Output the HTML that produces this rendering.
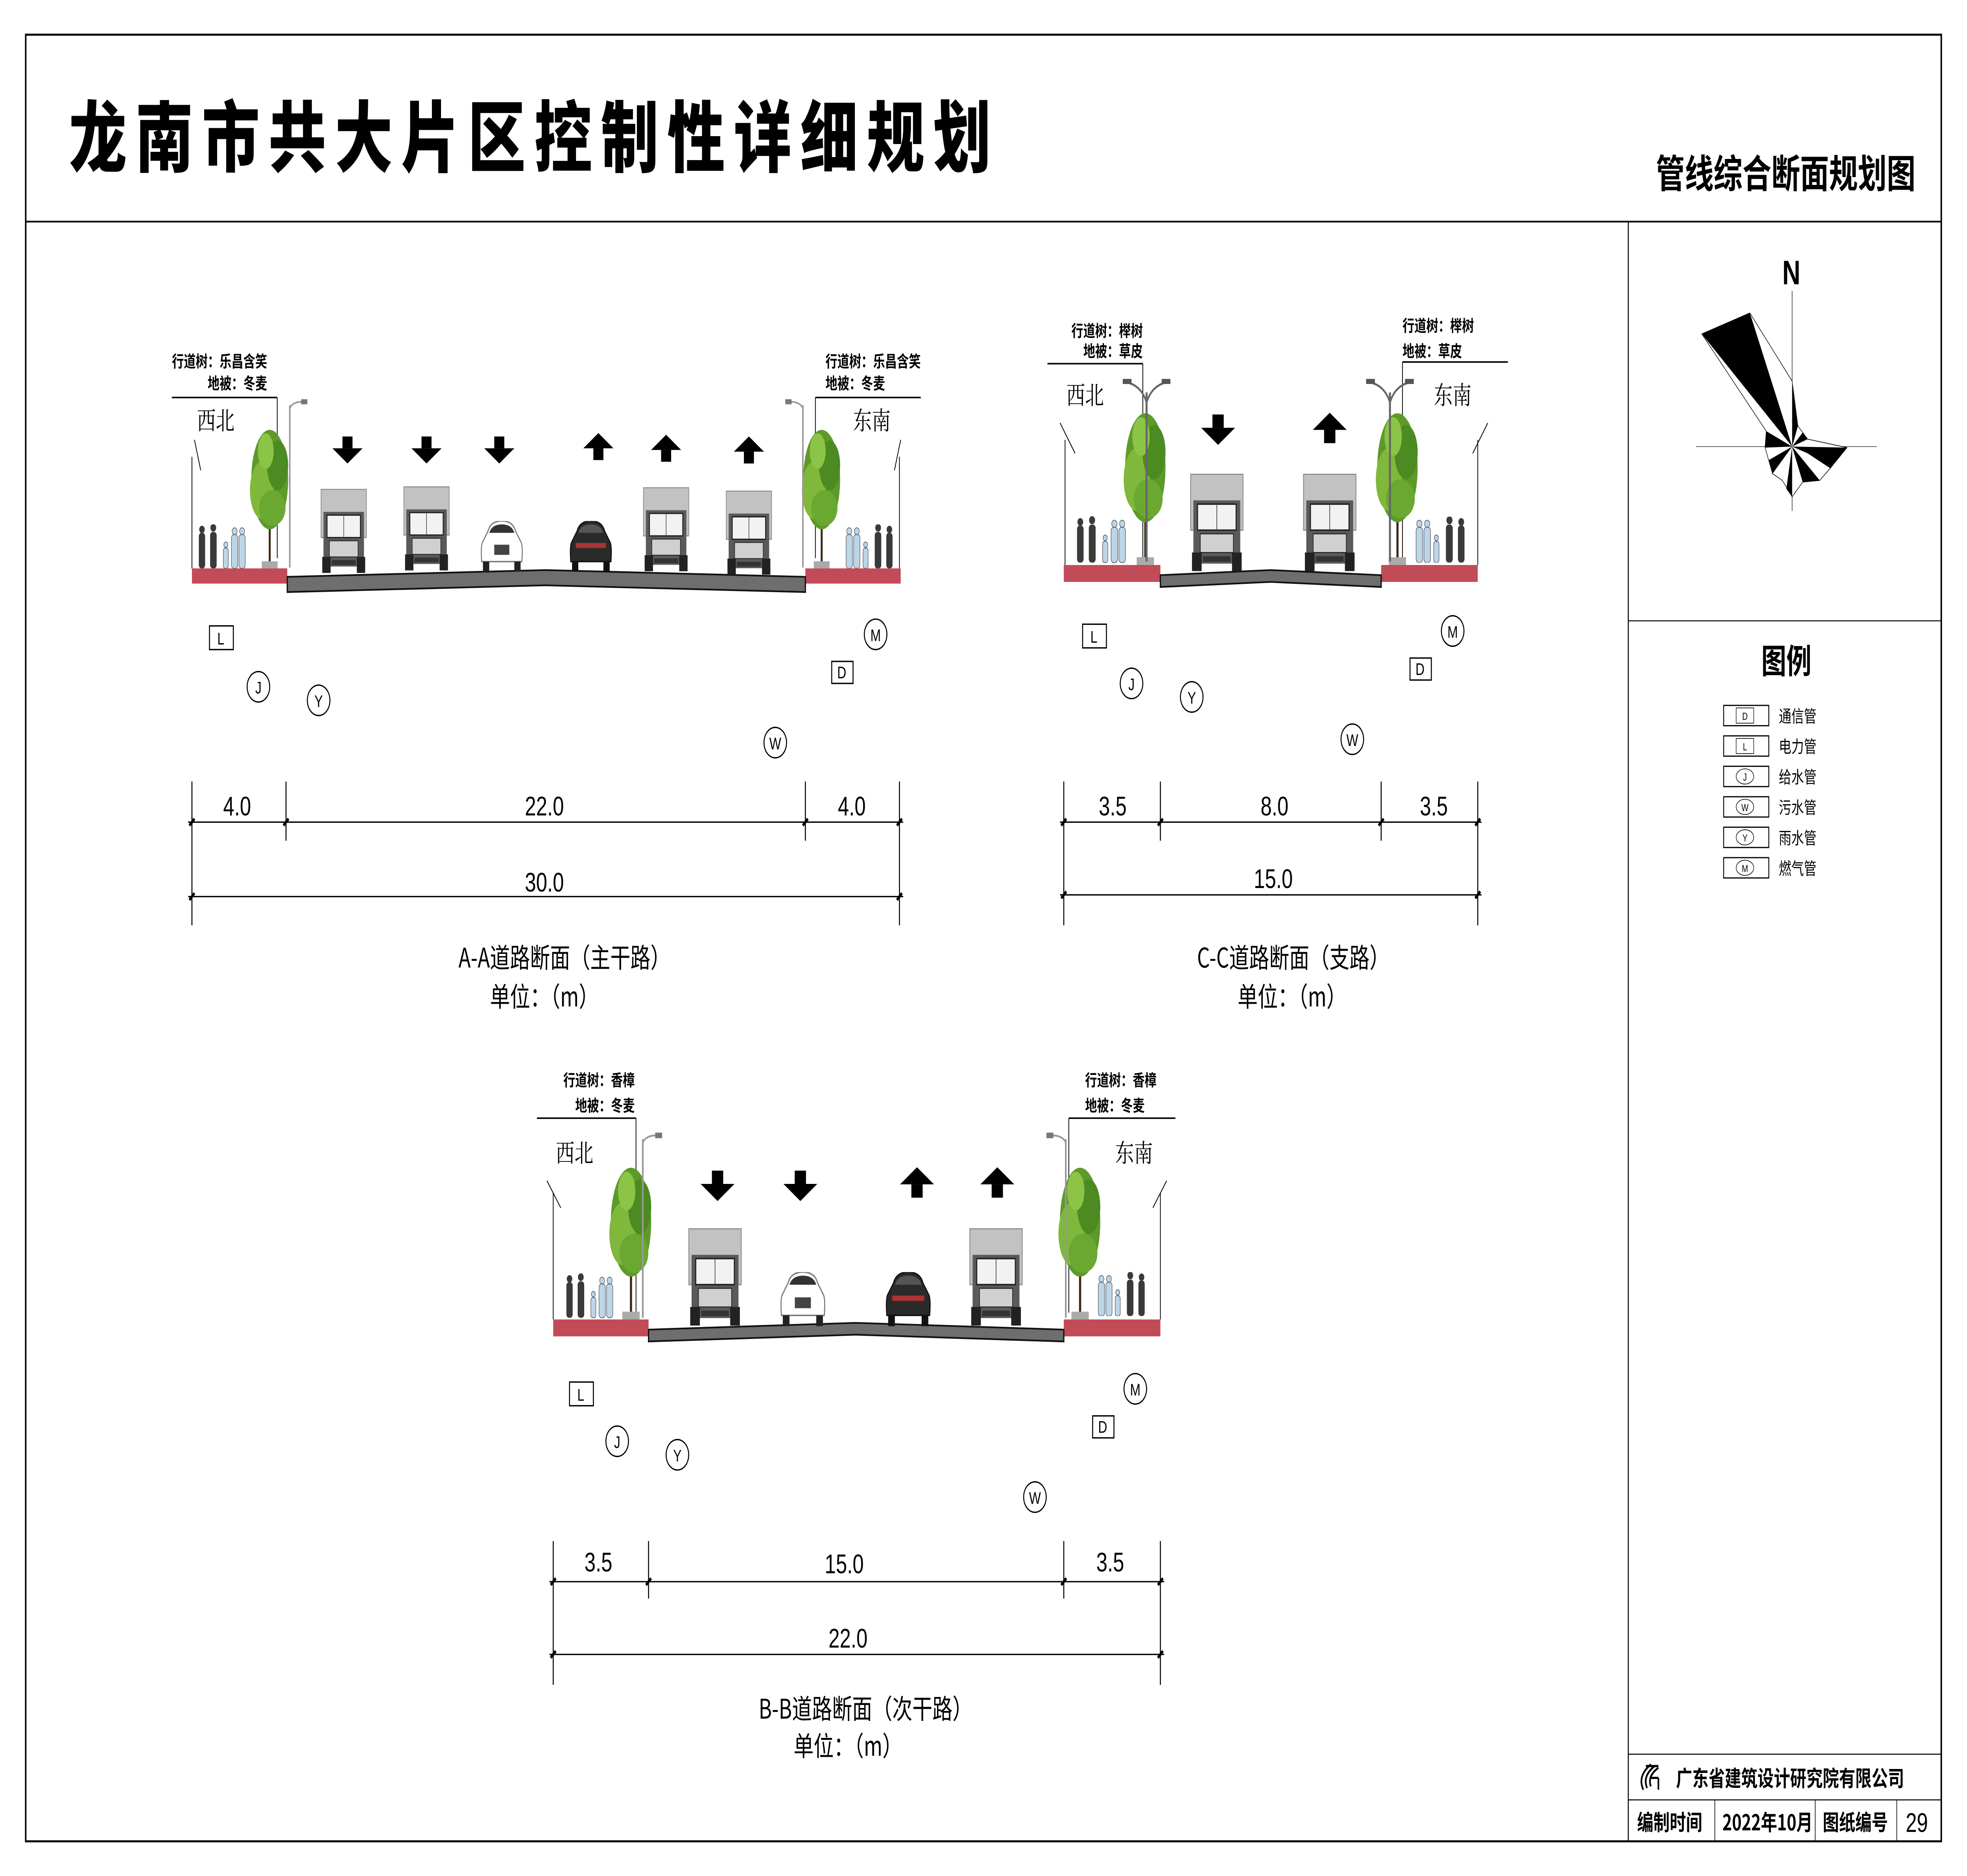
<!DOCTYPE html>
<html><head><meta charset="utf-8">
<style>
html,body{margin:0;padding:0;background:#fff;width:100vw;height:100vh;overflow:hidden;}
svg{display:block;width:100vw;height:100vh;}
text{font-family:"Liberation Sans","Noto Sans CJK SC",sans-serif;}
.cn{font-family:"Noto Sans CJK SC","WenQuanYi Zen Hei",sans-serif;}
.sr{font-family:"Noto Serif CJK SC",serif;}
</style></head>
<body>
<svg viewBox="0 0 1568 1109" preserveAspectRatio="none" xmlns="http://www.w3.org/2000/svg">
<defs>
<symbol id="truck" viewBox="0 0 40 52">
<rect x="1" y="0" width="38" height="30" fill="#c2c2c2" stroke="#8a8a8a" stroke-width="0.6"/>
<rect x="3" y="14" width="34" height="34" fill="#5a5a5a"/>
<rect x="6" y="16" width="28" height="14" fill="#f2f2f2" stroke="#222" stroke-width="0.8"/>
<line x1="20" y1="16" x2="20" y2="30" stroke="#444" stroke-width="0.5"/>
<rect x="8" y="32" width="24" height="10" fill="#d0d0d0" stroke="#222" stroke-width="0.5"/>
<rect x="2" y="42" width="7" height="10" fill="#222"/>
<rect x="31" y="42" width="7" height="10" fill="#222"/>
<rect x="10" y="44" width="20" height="3" fill="#333"/>
</symbol>
<symbol id="carw" viewBox="0 0 36 30">
<path d="M7 6 Q9 0 18 0 Q27 0 29 6 L33 12 Q35 14 34 24 L2 24 Q1 14 3 12 Z" fill="#fff" stroke="#777" stroke-width="0.8"/>
<path d="M8 7 Q10 2 18 2 Q26 2 28 7 Z" fill="#333"/>
<rect x="12" y="14" width="12" height="6" fill="#444"/>
<rect x="3" y="24" width="5" height="6" fill="#222"/><rect x="28" y="24" width="5" height="6" fill="#222"/>
</symbol>
<symbol id="carb" viewBox="0 0 36 30">
<path d="M7 6 Q9 0 18 0 Q27 0 29 6 L33 12 Q35 14 34 24 L2 24 Q1 14 3 12 Z" fill="#2a2a2a" stroke="#111" stroke-width="0.8"/>
<path d="M8 7 Q10 2 18 2 Q26 2 28 7 Z" fill="#555"/>
<rect x="6" y="13" width="24" height="3" fill="#a33"/>
<rect x="3" y="24" width="5" height="6" fill="#111"/><rect x="28" y="24" width="5" height="6" fill="#111"/>
</symbol>
<symbol id="tree" viewBox="0 0 40 80">
<line x1="20" y1="30" x2="20" y2="78" stroke="#3b2a1a" stroke-width="1.5"/>
<ellipse cx="20" cy="30" rx="14" ry="28" fill="#5d9a2a"/>
<ellipse cx="14" cy="36" rx="9" ry="16" fill="#7fb83a"/>
<ellipse cx="26" cy="22" rx="8" ry="14" fill="#4c8a22"/>
<ellipse cx="22" cy="46" rx="10" ry="10" fill="#6aa832"/>
<ellipse cx="17" cy="14" rx="6" ry="10" fill="#8cc447"/>
<rect x="14" y="76" width="12" height="4" fill="#aaa"/>
</symbol>
<symbol id="ppl" viewBox="0 0 46 26">
<g fill="#3a3a3a">
<circle cx="4" cy="3" r="2.2"/><rect x="1.5" y="5" width="5" height="21" rx="2"/>
<circle cx="13" cy="2" r="2.3"/><rect x="10.5" y="4.5" width="5.2" height="21.5" rx="2"/>
</g>
<g fill="#bcd6e6" stroke="#556" stroke-width="0.4">
<circle cx="30" cy="4" r="2"/><rect x="27.5" y="6" width="5" height="20" rx="2"/>
<circle cx="36" cy="4" r="2"/><rect x="33.5" y="6" width="5" height="20" rx="2"/>
<circle cx="23" cy="12" r="1.6"/><rect x="21" y="14" width="4" height="12" rx="1.5"/>
</g>
</symbol>
<symbol id="pplr" viewBox="0 0 46 26">
<g transform="translate(46,0) scale(-1,1)"><use href="#ppl" width="46" height="26"/></g>
</symbol>
<symbol id="adn" viewBox="0 0 24 16"><rect x="8" y="0" width="8" height="7" fill="#000"/><polygon points="0,7 24,7 12,16" fill="#000"/></symbol>
<symbol id="aup" viewBox="0 0 24 16"><rect x="8" y="9" width="8" height="7" fill="#000"/><polygon points="0,9 24,9 12,0" fill="#000"/></symbol>
<symbol id="lampL" viewBox="0 0 20 100"><line x1="4" y1="4" x2="4" y2="100" stroke="#999" stroke-width="1.2"/><path d="M4 6 Q6 2 14 2" fill="none" stroke="#999" stroke-width="1"/><rect x="13" y="0.5" width="5" height="3" fill="#777"/></symbol>
<symbol id="lampR" viewBox="0 0 20 100"><line x1="16" y1="4" x2="16" y2="100" stroke="#999" stroke-width="1.2"/><path d="M16 6 Q14 2 6 2" fill="none" stroke="#999" stroke-width="1"/><rect x="2" y="0.5" width="5" height="3" fill="#777"/></symbol>
<symbol id="lamp2" viewBox="0 0 40 110"><line x1="20" y1="10" x2="20" y2="110" stroke="#666" stroke-width="1.6"/><path d="M20 16 Q24 6 36 4" fill="none" stroke="#666" stroke-width="1.3"/><path d="M20 16 Q16 6 4 4" fill="none" stroke="#666" stroke-width="1.3"/><rect x="32" y="2" width="7" height="3" fill="#555"/><rect x="1" y="2" width="7" height="3" fill="#555"/></symbol>
</defs>

<!-- frame -->
<rect x="20.5" y="20.5" width="1527" height="1068" fill="none" stroke="#000" stroke-width="1.2"/>
<line x1="20" y1="131" x2="1548" y2="131" stroke="#000" stroke-width="1"/>
<line x1="1298" y1="131" x2="1298" y2="1088" stroke="#000" stroke-width="0.8"/>
<line x1="1298" y1="367" x2="1548" y2="367" stroke="#000" stroke-width="0.6"/>
<line x1="1298" y1="1037" x2="1548" y2="1037" stroke="#000" stroke-width="0.6"/>
<line x1="1298" y1="1064" x2="1548" y2="1064" stroke="#000" stroke-width="0.6"/>
<line x1="1367" y1="1064" x2="1367" y2="1088" stroke="#000" stroke-width="0.5"/>
<line x1="1447" y1="1064" x2="1447" y2="1088" stroke="#000" stroke-width="0.5"/>
<line x1="1512" y1="1064" x2="1512" y2="1088" stroke="#000" stroke-width="0.5"/>

<text x="55" y="98" class="cn" font-size="46" font-weight="900" textLength="735" lengthAdjust="spacing">龙南市共大片区控制性详细规划</text>
<text x="1527" y="111" class="cn" font-size="23" font-weight="700" text-anchor="end">管线综合断面规划图</text>

<!-- compass -->
<text x="1428" y="168" font-size="20" font-weight="700" text-anchor="middle">N</text>
<line x1="1428.6" y1="172" x2="1428.6" y2="302" stroke="#000" stroke-width="0.4"/>
<line x1="1352" y1="264" x2="1496" y2="264" stroke="#000" stroke-width="0.3"/>
<polygon points="1428.6,225.3 1433.2,251.9 1441,259.6 1472.3,264.6 1459,276.8 1450.6,284 1437,285 1428.6,293.7 1420.8,284 1413,280 1407,264.6 1408,254.9 1356.6,197.4 1394.9,185" fill="#fff" stroke="#000" stroke-width="0.4"/>
<g fill="#000">
<polygon points="1428.6,264 1356.6,197.4 1394.9,185"/>
<polygon points="1428.6,264 1428.6,225.3 1433.2,251.9"/>
<polygon points="1428.6,264 1437,255.7 1441,259.6"/>
<polygon points="1428.6,264 1472.3,264.6 1459,276.8 1441,268"/>
<polygon points="1428.6,264 1450.6,284 1437,285"/>
<polygon points="1428.6,264 1428.6,293.7 1424,289"/>
<polygon points="1428.6,264 1413,280 1410,272"/>
<polygon points="1428.6,264 1407,264.6 1408,254.9"/>
</g>

<!-- legend -->
<text x="1424" y="398" class="cn" font-size="20" font-weight="700" text-anchor="middle">图例</text>
<g fill="none" stroke="#000" stroke-width="0.7">
<rect x="1374" y="417" width="36" height="12"/><rect x="1384" y="418.5" width="14" height="9" stroke-width="0.4"/>
<rect x="1374" y="435" width="36" height="12"/><rect x="1384" y="436.5" width="14" height="9" stroke-width="0.4"/>
<rect x="1374" y="453" width="36" height="12"/><ellipse cx="1391" cy="459" rx="7" ry="4.5" stroke-width="0.4"/>
<rect x="1374" y="471" width="36" height="12"/><ellipse cx="1391" cy="477" rx="7" ry="4.5" stroke-width="0.4"/>
<rect x="1374" y="489" width="36" height="12"/><ellipse cx="1391" cy="495" rx="7" ry="4.5" stroke-width="0.4"/>
<rect x="1374" y="507" width="36" height="12"/><ellipse cx="1391" cy="513" rx="7" ry="4.5" stroke-width="0.4"/>
</g>
<g font-size="6" text-anchor="middle" fill="#000">
<text x="1391" y="425.5">D</text><text x="1391" y="443.5">L</text><text x="1391" y="461.5">J</text><text x="1391" y="479.5">W</text><text x="1391" y="497.5">Y</text><text x="1391" y="515.5">M</text>
</g>
<g font-size="10" fill="#000">
<text x="1418" y="427" class="cn">通信管</text><text x="1418" y="445" class="cn">电力管</text><text x="1418" y="463" class="cn">给水管</text><text x="1418" y="481" class="cn">污水管</text><text x="1418" y="499" class="cn">雨水管</text><text x="1418" y="517" class="cn">燃气管</text>
</g>

<!-- title block -->
<g fill="none" stroke="#000" stroke-width="1.3">
<path d="M1316 1043 Q1305 1050 1310 1058"/><path d="M1319 1044 Q1309 1050 1313 1057"/><path d="M1322 1045 Q1313 1050 1316 1056"/>
<line x1="1312" y1="1044" x2="1322" y2="1044"/><line x1="1315" y1="1051" x2="1322" y2="1051"/><line x1="1322" y1="1051" x2="1322" y2="1058"/>
</g>
<text x="1336" y="1056" class="cn" font-size="13" font-weight="700">广东省建筑设计研究院有限公司</text>
<text x="1305" y="1082" class="cn" font-size="13" font-weight="700">编制时间</text>
<text x="1373" y="1082" font-size="13" font-weight="700" class="cn">2022年10月</text>
<text x="1453" y="1082" class="cn" font-size="13" font-weight="700">图纸编号</text>
<text x="1528" y="1083" font-size="16" text-anchor="middle">29</text>

<!-- ================= A-A ================= -->
<g>
<text x="213" y="217" class="cn" font-size="9.5" font-weight="700" text-anchor="end">行道树：乐昌含笑</text>
<text x="213" y="230" class="cn" font-size="9.5" font-weight="700" text-anchor="end">地被：冬麦</text>
<line x1="137" y1="235" x2="221" y2="235" stroke="#000" stroke-width="0.9"/>
<line x1="221" y1="235" x2="221" y2="330" stroke="#000" stroke-width="0.6"/>
<text x="157" y="254" class="sr" font-size="15">西北</text>
<text x="658" y="217" class="cn" font-size="9.5" font-weight="700">行道树：乐昌含笑</text>
<text x="658" y="230" class="cn" font-size="9.5" font-weight="700">地被：冬麦</text>
<line x1="650" y1="235" x2="734" y2="235" stroke="#000" stroke-width="0.9"/>
<line x1="650" y1="235" x2="650" y2="330" stroke="#000" stroke-width="0.6"/>
<text x="680" y="254" class="sr" font-size="15">东南</text>
<path d="M155 260 L160 278 M153 270 L153 336" stroke="#000" stroke-width="0.6" fill="none"/>
<path d="M718 260 L713 278 M717 270 L717 336" stroke="#000" stroke-width="0.6" fill="none"/>
<use href="#tree" x="190" y="252" width="50" height="84"/>
<use href="#tree" x="630" y="252" width="50" height="84"/>
<use href="#lampL" x="227" y="235" width="20" height="101"/>
<use href="#lampR" x="624" y="235" width="20" height="101"/>
<use href="#ppl" x="157" y="310" width="46" height="26"/>
<use href="#pplr" x="667" y="310" width="46" height="26"/>
<rect x="153" y="336" width="76" height="9" fill="#c24b58"/>
<rect x="642" y="336" width="76" height="9" fill="#c24b58"/>
<polygon points="229,341 435,337 642,341 642,350 435,346 229,350" fill="#6e6e6e" stroke="#111" stroke-width="1"/>
<use href="#adn" x="265" y="258" width="24" height="16"/>
<use href="#adn" x="328" y="258" width="24" height="16"/>
<use href="#adn" x="386" y="258" width="24" height="16"/>
<use href="#aup" x="465" y="256" width="24" height="16"/>
<use href="#aup" x="519" y="257" width="24" height="16"/>
<use href="#aup" x="585" y="258" width="24" height="16"/>
<use href="#truck" x="255" y="289" width="38" height="50"/>
<use href="#truck" x="321" y="287" width="38" height="51"/>
<use href="#carw" x="381" y="308" width="38" height="30"/>
<use href="#carb" x="452" y="308" width="38" height="30"/>
<use href="#truck" x="512" y="288" width="38" height="50"/>
<use href="#truck" x="578" y="290" width="38" height="50"/>
</g>
<g fill="none" stroke="#000" stroke-width="0.8">
<rect x="167" y="370" width="19" height="14"/><rect x="663" y="391" width="17" height="13"/>
<circle cx="206" cy="406" r="9"/><circle cx="254" cy="414" r="9"/><circle cx="618" cy="439" r="9"/><circle cx="698" cy="375" r="9"/>
</g>
<g font-size="10" text-anchor="middle">
<text x="176" y="381">L</text><text x="671" y="401">D</text><text x="206" y="410">J</text><text x="254" y="418">Y</text><text x="618" y="443">W</text><text x="698" y="379">M</text>
</g>
<g stroke="#000" stroke-width="0.8">
<line x1="153" y1="462" x2="153" y2="547"/><line x1="228" y1="462" x2="228" y2="497"/><line x1="642" y1="462" x2="642" y2="497"/><line x1="717" y1="462" x2="717" y2="547"/>
<line x1="150" y1="486" x2="720" y2="486"/><line x1="150" y1="530" x2="720" y2="530"/>
</g>
<g stroke="#000" stroke-width="1.8">
<line x1="151" y1="488" x2="155" y2="484"/><line x1="226" y1="488" x2="230" y2="484"/><line x1="640" y1="488" x2="644" y2="484"/><line x1="715" y1="488" x2="719" y2="484"/>
<line x1="151" y1="532" x2="155" y2="528"/><line x1="715" y1="532" x2="719" y2="528"/>
</g>
<g font-size="16" text-anchor="middle">
<text x="189" y="482">4.0</text><text x="434" y="482">22.0</text><text x="679" y="482">4.0</text><text x="434" y="527">30.0</text>
</g>
<text x="450" y="572" class="cn" font-size="16" text-anchor="middle">A-A道路断面（主干路）</text>
<text x="434" y="595" class="cn" font-size="16" text-anchor="middle">单位：（m）</text>

<!-- ================= C-C ================= -->
<g>
<text x="911" y="199" class="cn" font-size="9.5" font-weight="700" text-anchor="end">行道树：榉树</text>
<text x="911" y="211" class="cn" font-size="9.5" font-weight="700" text-anchor="end">地被：草皮</text>
<line x1="835" y1="215" x2="911" y2="215" stroke="#000" stroke-width="0.9"/>
<line x1="911" y1="215" x2="911" y2="330" stroke="#000" stroke-width="0.6"/>
<text x="850" y="239" class="sr" font-size="15">西北</text>
<text x="1118" y="196" class="cn" font-size="9.5" font-weight="700">行道树：榉树</text>
<text x="1118" y="211" class="cn" font-size="9.5" font-weight="700">地被：草皮</text>
<line x1="1118" y1="214" x2="1202" y2="214" stroke="#000" stroke-width="0.9"/>
<line x1="1118" y1="214" x2="1118" y2="330" stroke="#000" stroke-width="0.6"/>
<text x="1143" y="239" class="sr" font-size="15">东南</text>
<path d="M845 250 L857 268 M849 260 L849 334" stroke="#000" stroke-width="0.6" fill="none"/>
<path d="M1186 250 L1174 268 M1178 260 L1178 334" stroke="#000" stroke-width="0.6" fill="none"/>
<use href="#tree" x="882" y="242" width="62" height="92"/>
<use href="#tree" x="1083" y="242" width="62" height="92"/>
<use href="#lamp2" x="894" y="220" width="40" height="114"/>
<use href="#lamp2" x="1088" y="220" width="40" height="114"/>
<use href="#ppl" x="857" y="304" width="48" height="30"/>
<use href="#pplr" x="1121" y="304" width="48" height="30"/>
<rect x="848" y="334" width="77" height="10" fill="#c24b58"/>
<rect x="1101" y="334" width="77" height="10" fill="#c24b58"/>
<polygon points="925,340 1013,337 1101,340 1101,347 1013,344 925,347" fill="#6e6e6e" stroke="#111" stroke-width="1"/>
<use href="#adn" x="957" y="245" width="28" height="18"/>
<use href="#aup" x="1046" y="244" width="28" height="18"/>
<use href="#truck" x="948" y="280" width="44" height="58"/>
<use href="#truck" x="1038" y="280" width="44" height="58"/>
</g>
<g fill="none" stroke="#000" stroke-width="0.8">
<rect x="863" y="369" width="19" height="14"/><rect x="1124" y="389" width="17" height="13"/>
<circle cx="902" cy="404" r="9"/><circle cx="950" cy="412" r="9"/><circle cx="1078" cy="437" r="9"/><circle cx="1158" cy="373" r="9"/>
</g>
<g font-size="10" text-anchor="middle">
<text x="872" y="380">L</text><text x="1132" y="399">D</text><text x="902" y="408">J</text><text x="950" y="416">Y</text><text x="1078" y="441">W</text><text x="1158" y="377">M</text>
</g>
<g stroke="#000" stroke-width="0.8">
<line x1="848" y1="462" x2="848" y2="547"/><line x1="925" y1="462" x2="925" y2="497"/><line x1="1101" y1="462" x2="1101" y2="497"/><line x1="1178" y1="462" x2="1178" y2="547"/>
<line x1="845" y1="486" x2="1181" y2="486"/><line x1="845" y1="529" x2="1181" y2="529"/>
</g>
<g stroke="#000" stroke-width="1.8">
<line x1="846" y1="488" x2="850" y2="484"/><line x1="923" y1="488" x2="927" y2="484"/><line x1="1099" y1="488" x2="1103" y2="484"/><line x1="1176" y1="488" x2="1180" y2="484"/>
<line x1="846" y1="531" x2="850" y2="527"/><line x1="1176" y1="531" x2="1180" y2="527"/>
</g>
<g font-size="16" text-anchor="middle">
<text x="887" y="482">3.5</text><text x="1016" y="482">8.0</text><text x="1143" y="482">3.5</text><text x="1015" y="525">15.0</text>
</g>
<text x="1031" y="572" class="cn" font-size="16" text-anchor="middle">C-C道路断面（支路）</text>
<text x="1030" y="595" class="cn" font-size="16" text-anchor="middle">单位：（m）</text>

<!-- ================= B-B ================= -->
<g>
<text x="506" y="642" class="cn" font-size="9.5" font-weight="700" text-anchor="end">行道树：香樟</text>
<text x="506" y="657" class="cn" font-size="9.5" font-weight="700" text-anchor="end">地被：冬麦</text>
<line x1="428" y1="661" x2="507" y2="661" stroke="#000" stroke-width="0.9"/>
<line x1="507" y1="661" x2="507" y2="776" stroke="#000" stroke-width="0.6"/>
<text x="443" y="687" class="sr" font-size="15">西北</text>
<text x="865" y="642" class="cn" font-size="9.5" font-weight="700">行道树：香樟</text>
<text x="865" y="657" class="cn" font-size="9.5" font-weight="700">地被：冬麦</text>
<line x1="852" y1="661" x2="937" y2="661" stroke="#000" stroke-width="0.9"/>
<line x1="852" y1="661" x2="852" y2="776" stroke="#000" stroke-width="0.6"/>
<text x="889" y="687" class="sr" font-size="15">东南</text>
<path d="M436 698 L447 714 M441 705 L441 780" stroke="#000" stroke-width="0.6" fill="none"/>
<path d="M930 698 L919 714 M925 705 L925 780" stroke="#000" stroke-width="0.6" fill="none"/>
<use href="#tree" x="472" y="688" width="62" height="92"/>
<use href="#tree" x="830" y="688" width="62" height="92"/>
<use href="#lampL" x="508" y="668" width="22" height="112"/>
<use href="#lampR" x="832" y="668" width="22" height="112"/>
<use href="#ppl" x="450" y="752" width="46" height="28"/>
<use href="#pplr" x="868" y="750" width="46" height="30"/>
<rect x="441" y="780" width="76" height="10" fill="#c24b58"/>
<rect x="848" y="780" width="77" height="10" fill="#c24b58"/>
<polygon points="517,786 682,782 848,786 848,793 682,789 517,793" fill="#6e6e6e" stroke="#111" stroke-width="1"/>
<use href="#adn" x="558" y="692" width="28" height="18"/>
<use href="#adn" x="624" y="692" width="28" height="18"/>
<use href="#aup" x="717" y="690" width="28" height="18"/>
<use href="#aup" x="781" y="690" width="28" height="18"/>
<use href="#truck" x="548" y="726" width="44" height="58"/>
<use href="#carw" x="617" y="752" width="46" height="32"/>
<use href="#carb" x="701" y="752" width="46" height="32"/>
<use href="#truck" x="772" y="726" width="44" height="58"/>
</g>
<g fill="none" stroke="#000" stroke-width="0.8">
<rect x="454" y="817" width="19" height="14"/><rect x="871" y="837" width="17" height="13"/>
<circle cx="492" cy="852" r="9"/><circle cx="540" cy="860" r="9"/><circle cx="825" cy="885" r="9"/><circle cx="905" cy="821" r="9"/>
</g>
<g font-size="10" text-anchor="middle">
<text x="463" y="828">L</text><text x="879" y="847">D</text><text x="492" y="856">J</text><text x="540" y="864">Y</text><text x="825" y="889">W</text><text x="905" y="825">M</text>
</g>
<g stroke="#000" stroke-width="0.8">
<line x1="441" y1="911" x2="441" y2="996"/><line x1="517" y1="911" x2="517" y2="945"/><line x1="848" y1="911" x2="848" y2="945"/><line x1="925" y1="911" x2="925" y2="996"/>
<line x1="438" y1="935" x2="928" y2="935"/><line x1="438" y1="978" x2="928" y2="978"/>
</g>
<g stroke="#000" stroke-width="1.8">
<line x1="439" y1="937" x2="443" y2="933"/><line x1="515" y1="937" x2="519" y2="933"/><line x1="846" y1="937" x2="850" y2="933"/><line x1="923" y1="937" x2="927" y2="933"/>
<line x1="439" y1="980" x2="443" y2="976"/><line x1="923" y1="980" x2="927" y2="976"/>
</g>
<g font-size="16" text-anchor="middle">
<text x="477" y="929">3.5</text><text x="673" y="930">15.0</text><text x="885" y="929">3.5</text><text x="676" y="974">22.0</text>
</g>
<text x="690" y="1016" class="cn" font-size="16" text-anchor="middle">B-B道路断面（次干路）</text>
<text x="676" y="1038" class="cn" font-size="16" text-anchor="middle">单位：（m）</text>
</svg>
</body></html>
